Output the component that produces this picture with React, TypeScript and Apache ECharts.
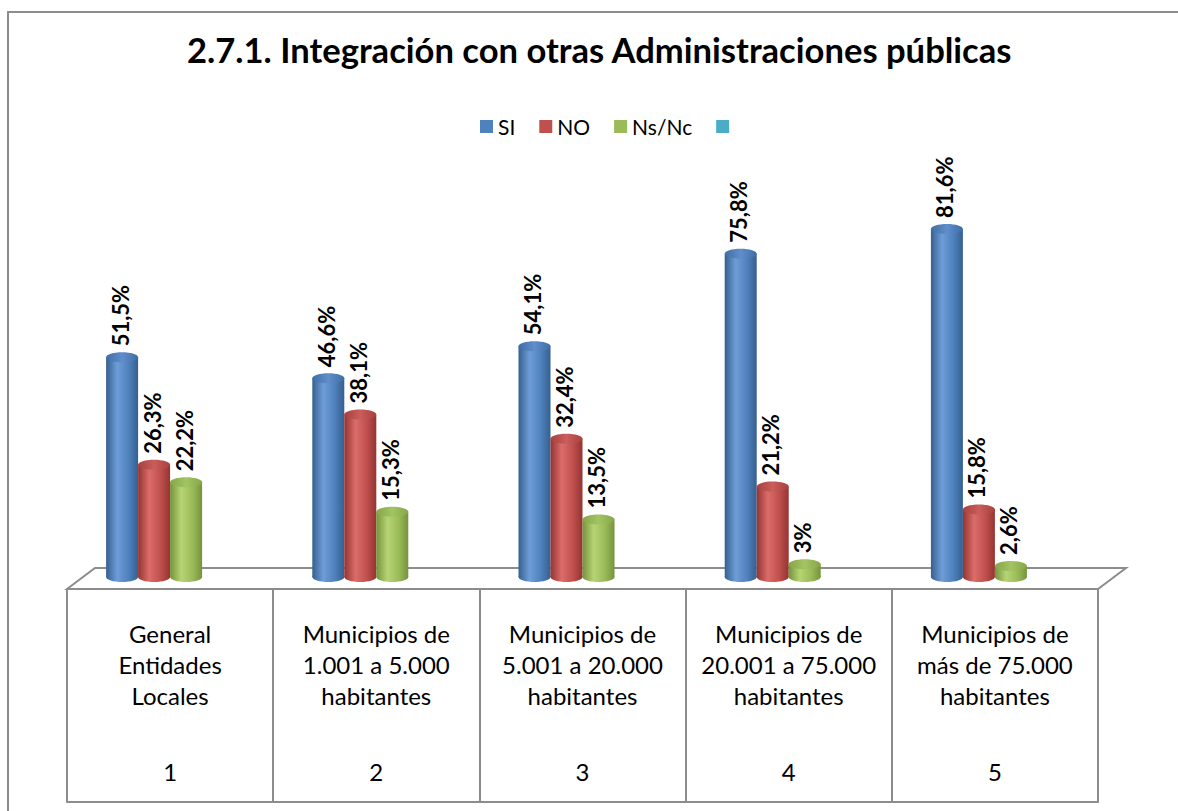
import React, { useEffect, useRef } from "react";
import * as echarts from "echarts";

const titleText = "2.7.1. Integración con otras Administraciones públicas";
const categories = [
  "General\nEntidades\nLocales",
  "Municipios de\n1.001 a 5.000\nhabitantes",
  "Municipios de\n5.001 a 20.000\nhabitantes",
  "Municipios de\n20.001 a 75.000\nhabitantes",
  "Municipios de\nmás de 75.000\nhabitantes",
];
const categoryNumbers = ["1", "2", "3", "4", "5"];
const seriesNames = ["SI", "NO", "Ns/Nc", " "];
const siValues = [51.5, 46.6, 54.1, 75.8, 81.6];
const noValues = [26.3, 38.1, 32.4, 21.2, 15.8];
const nsncValues = [22.2, 15.3, 13.5, 3, 2.6];
const emptyValues: number[] = [];

const FONT = "Lato, 'DejaVu Sans', sans-serif";

const palette = [
  { base: "#4F81BD", dark: "#35608F", light: "#6E9DD8", cap: "#3F6DA6", capLight: "#5F8ECB" },
  { base: "#C0504D", dark: "#943432", light: "#DB6C69", cap: "#A8403D", capLight: "#C95E5B" },
  { base: "#9BBB59", dark: "#76933C", light: "#B6D474", cap: "#86A648", capLight: "#A3C463" },
  { base: "#4BACC6", dark: "#2F8AA3", light: "#6CC3DA", cap: "#3C9BB4", capLight: "#5CB5CC" },
];

const fmt = (v: number) => String(v).replace(".", ",") + "%";

function makeRender(pos: number) {
  const c = palette[pos];
  return (params: any, api: any) => {
    const idx = api.value(0);
    const v = api.value(1);
    const top = api.coord([idx, v]);
    const base = api.coord([idx, 0]);
    const barW = 32;
    const cx = base[0] + (pos - 1.5) * barW;
    const rx = barW / 2;
    const ry = 5;
    const x0 = cx - rx;
    const bodyGrad = new echarts.graphic.LinearGradient(0, 0, 1, 0, [
      { offset: 0, color: c.dark },
      { offset: 0.35, color: c.light },
      { offset: 0.7, color: c.base },
      { offset: 1, color: c.dark },
    ]);
    const capGrad = new echarts.graphic.LinearGradient(0, 0, 1, 0, [
      { offset: 0, color: c.cap },
      { offset: 0.5, color: c.capLight },
      { offset: 1, color: c.cap },
    ]);
    return {
      type: "group",
      children: [
        { type: "ellipse", shape: { cx, cy: base[1], rx, ry }, style: { fill: bodyGrad } },
        {
          type: "rect",
          shape: { x: x0, y: top[1], width: barW, height: base[1] - top[1] },
          style: { fill: bodyGrad },
        },
        { type: "ellipse", shape: { cx, cy: top[1], rx, ry }, style: { fill: capGrad } },
        {
          type: "text",
          x: cx - 2,
          y: top[1] - ry - 6,
          rotation: Math.PI / 2,
          style: {
            text: fmt(v),
            fill: "#000",
            font: `bold 22px ${FONT}`,
            align: "left",
            verticalAlign: "middle",
          },
        },
      ],
    };
  };
}

export default function App() {
  const ref = useRef<HTMLDivElement>(null);
  useEffect(() => {
    if (!ref.current) return;
    const chart = echarts.init(ref.current, undefined, { renderer: "svg" });
    const valueSets = [siValues, noValues, nsncValues, emptyValues];
    const option: any = {
      animation: false,
      backgroundColor: "#fff",
      title: {
        text: titleText,
        left: 182,
        top: 27,
        textStyle: { fontFamily: FONT, fontWeight: "bold", fontSize: 34.6, color: "#000" },
      },
      legend: {
        top: 111,
        left: 475,
        itemWidth: 13,
        itemHeight: 13,
        itemGap: 24,
        icon: "rect",
        textStyle: { fontFamily: FONT, fontSize: 21, color: "#000" },
        data: seriesNames.map((n, i) => ({ name: n, itemStyle: { color: palette[i].base } })),
      },
      grid: [
        { left: 67, right: 80, top: 150.5, height: 426.5 },
        { left: 67, right: 80, top: 589, height: 213 },
      ],
      xAxis: [
        {
          type: "category",
          gridIndex: 0,
          data: categories,
          show: false,
        },
        {
          type: "category",
          gridIndex: 1,
          data: categories,
          position: "top",
          axisLine: { show: true, lineStyle: { color: "#8c8c8c", width: 2 } },
          axisTick: { show: false },
          splitLine: { show: true, lineStyle: { color: "#8c8c8c", width: 2 } },
          axisLabel: {
            inside: true,
            margin: 29,
            interval: 0,
            formatter: (value: string, index: number) =>
              value
                .split("\n")
                .map((l) => `{c|${l}}`)
                .join("\n") + `\n{s| }\n{n|${categoryNumbers[index]}}`,
            rich: {
              c: { fontFamily: FONT, fontSize: 24, lineHeight: 31, color: "#000" },
              s: { fontSize: 10, lineHeight: 45 },
              n: { fontFamily: FONT, fontSize: 24, lineHeight: 31, color: "#000" },
            },
          },
        },
      ],
      yAxis: [
        { type: "value", gridIndex: 0, min: 0, max: 100, show: false },
        { type: "value", gridIndex: 1, show: false },
      ],
      graphic: [
        {
          type: "polyline",
          shape: { points: [[8, 811], [8, 12], [1178, 12]] },
          style: { stroke: "#8c8c8c", lineWidth: 2, fill: "none" },
          silent: true,
        },
        {
          type: "polygon",
          shape: { points: [[67, 589], [95, 568], [1126, 568], [1098, 589]] },
          style: { stroke: "#8c8c8c", lineWidth: 2, fill: "#fff" },
          silent: true,
          z: -1,
        },
      ],
      series: seriesNames.map((name, i) => ({
        type: "custom",
        name,
        xAxisIndex: 0,
        yAxisIndex: 0,
        itemStyle: { color: palette[i].base },
        renderItem: makeRender(i),
        data: valueSets[i].map((v, j) => [j, v]),
        z: 5,
      })),
    };
    chart.setOption(option);
    return () => chart.dispose();
  }, []);
  return <div ref={ref} style={{ width: 1178, height: 811, position: "absolute", left: 0, top: 0 }} />;
}
